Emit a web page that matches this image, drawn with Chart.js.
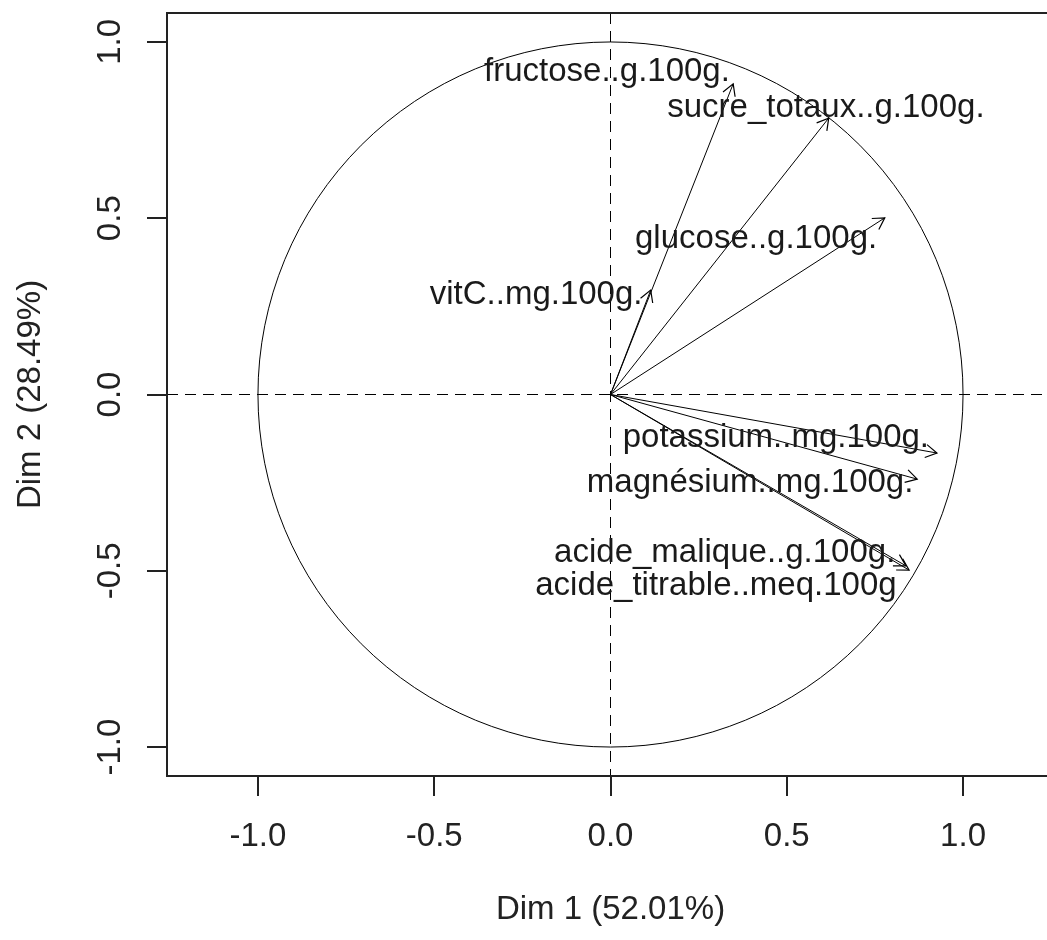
<!DOCTYPE html>
<html>
<head>
<meta charset="utf-8">
<script src="https://cdn.jsdelivr.net/npm/chart.js@4.4.1/dist/chart.umd.min.js"></script>
<style>
  html, body { margin: 0; padding: 0; background: #fff; overflow: hidden; }
  #wrap { position: relative; width: 1060px; height: 940px; }
</style>
</head>
<body>
<div id="wrap"><canvas id="pcaChart"></canvas></div>
<script>
// variable names and their coordinates on Dim 1 / Dim 2
const varNames = [
   'fructose..g.100g.',
   'sucre_totaux..g.100g.',
   'glucose..g.100g.',
   'vitC..mg.100g.',
   'potassium..mg.100g.',
   'magnésium..mg.100g.',
   'acide_malique..g.100g.',
   'acide_titrable..meq.100g'
];
const dim1 = [0.348, 0.619, 0.778, 0.114, 0.926, 0.870, 0.838, 0.847];
const dim2 = [0.881, 0.784, 0.501, 0.296, -0.166, -0.240, -0.486, -0.498];

// where each name is written (centre x, baseline y, in axis units)
const labelX = [-0.010, 0.611, 0.413, -0.211, 0.469, 0.396, 0.324, 0.299];
const labelY = [0.889, 0.787, 0.416, 0.257, -0.149, -0.277, -0.475, -0.569];

const xTicks = [-1.0, -0.5, 0.0, 0.5, 1.0];
const yTicks = [-1.0, -0.5, 0.0, 0.5, 1.0];
const xTitle = 'Dim 1 (52.01%)';
const yTitle = 'Dim 2 (28.49%)';

const FONT = "'Liberation Sans', Arial, sans-serif";
Chart.defaults.font.family = FONT;
Chart.defaults.font.size = 33;
Chart.defaults.color = '#222';

// one line dataset per variable, from the origin to its coordinates
const datasets = varNames.map((name, i) => ({
   label: name,
   data: [{ x: 0, y: 0 }, { x: dim1[i], y: dim2[i] }],
   showLine: true,
   borderColor: '#000',
   borderWidth: 1,
   pointRadius: 0,
   fill: false
}));

// circle of correlations + dashed axes, drawn under the arrows
const backdrop = {
   id: 'backdrop',
   beforeDatasetsDraw(chart) {
      const { ctx, chartArea: a, scales: { x, y } } = chart;
      ctx.save();
      ctx.strokeStyle = '#000';
      ctx.lineWidth = 1;
      ctx.setLineDash([11, 7]);
      ctx.beginPath();
      ctx.moveTo(x.getPixelForValue(0), a.top);
      ctx.lineTo(x.getPixelForValue(0), a.bottom);
      ctx.moveTo(a.left, y.getPixelForValue(0));
      ctx.lineTo(a.right, y.getPixelForValue(0));
      ctx.stroke();
      ctx.setLineDash([]);
      const cx = x.getPixelForValue(0), cy = y.getPixelForValue(0);
      const r = x.getPixelForValue(1) - cx;
      ctx.beginPath();
      ctx.arc(cx, cy, r, 0, Math.PI * 2);
      ctx.stroke();
      ctx.restore();
   }
};

// arrow heads, variable names and the box round the plot
const overlay = {
   id: 'overlay',
   afterDatasetsDraw(chart) {
      const { ctx, chartArea: a, scales: { x, y } } = chart;
      ctx.save();
      ctx.strokeStyle = '#000';
      ctx.lineWidth = 1.2;
      const ox = x.getPixelForValue(0), oy = y.getPixelForValue(0);
      dim1.forEach((v, i) => {
         const tx = x.getPixelForValue(v), ty = y.getPixelForValue(dim2[i]);
         const ang = Math.atan2(ty - oy, tx - ox);
         const len = 13, spread = Math.PI / 6;
         ctx.beginPath();
         ctx.moveTo(tx - len * Math.cos(ang - spread), ty - len * Math.sin(ang - spread));
         ctx.lineTo(tx, ty);
         ctx.lineTo(tx - len * Math.cos(ang + spread), ty - len * Math.sin(ang + spread));
         ctx.stroke();
      });

      ctx.fillStyle = '#1a1a1a';
      ctx.font = '33px ' + FONT;
      ctx.textAlign = 'center';
      ctx.textBaseline = 'alphabetic';
      varNames.forEach((name, i) => {
         ctx.fillText(name, x.getPixelForValue(labelX[i]), y.getPixelForValue(labelY[i]));
      });

      ctx.strokeStyle = '#222';
      ctx.lineWidth = 2;
      ctx.strokeRect(a.left, a.top, a.right - a.left, a.bottom - a.top);
      ctx.restore();
   }
};

const ctx = document.getElementById('pcaChart').getContext('2d');
const pcaChart = new Chart(ctx, {
   type: 'scatter',
   data: { datasets: datasets },
   options: {
      responsive: true,
      maintainAspectRatio: false,
      animation: false,
      layout: { padding: { left: 0, top: 13, right: 6, bottom: 0 } },
      scales: {
         x: {
            min: -1.258,
            max: 1.258,
            afterBuildTicks: s => { s.ticks = xTicks.map(v => ({ value: v })); },
            afterFit: s => { s.height = 164; s.paddingLeft = 0; s.paddingRight = 0; },
            border: { display: false },
            grid: { drawOnChartArea: false, drawTicks: true, tickLength: 20, color: '#222', lineWidth: 2 },
            ticks: { padding: 21, maxRotation: 0, callback: v => Number(v).toFixed(1) },
            title: { display: true, text: xTitle, padding: { top: 0, bottom: 10 } }
         },
         y: {
            min: -1.082,
            max: 1.082,
            afterBuildTicks: s => { s.ticks = yTicks.map(v => ({ value: v })); },
            afterFit: s => { s.width = 167; s.paddingTop = 0; s.paddingBottom = 0; },
            border: { display: false },
            grid: { drawOnChartArea: false, drawTicks: true, tickLength: 20, color: '#222', lineWidth: 2 },
            ticks: { padding: 8, minRotation: 90, maxRotation: 90, crossAlign: 'center', callback: v => Number(v).toFixed(1) },
            title: { display: true, text: yTitle, padding: { top: 11, bottom: 0 } }
         }
      },
      plugins: {
         legend: { display: false },
         tooltip: { enabled: false }
      }
   },
   plugins: [backdrop, overlay]
});
</script>
</body>
</html>
